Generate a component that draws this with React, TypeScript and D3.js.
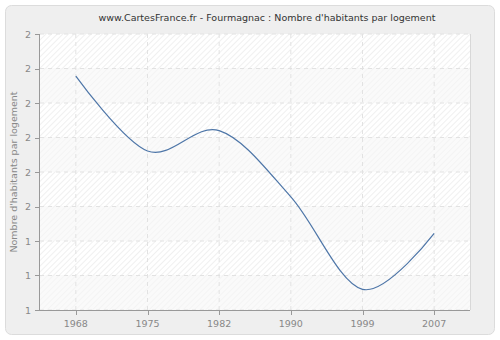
import React from "react";
import * as d3 from "d3";

const years = ["1968", "1975", "1982", "1990", "1999", "2007"];
const values = [1.878, 1.661, 1.72, 1.528, 1.26, 1.422];
const yTicks = [1.2, 1.3, 1.4, 1.5, 1.6, 1.7, 1.8, 1.9, 2.0];
const title = "www.CartesFrance.fr - Fourmagnac : Nombre d'habitants par logement";
const yLabel = "Nombre d'habitants par logement";

export default function App() {
  const W = 500, H = 340;
  const left = 40, right = 470, top = 34, bottom = 310;
  const x = d3.scalePoint<string>().domain(years).range([left, right]).padding(0.5);
  const y = d3.scaleLinear().domain([1.2, 2.0]).range([bottom, top]);
  const line = d3
    .line<number>()
    .x((_, i) => x(years[i]) as number)
    .y((d) => y(d))
    .curve(d3.curveCardinal.tension(0));
  const font = "DejaVu Sans, Verdana, sans-serif";
  const bands = yTicks.slice(0, -1).map((t, i) => ({ y0: y(yTicks[i + 1]), y1: y(t), i }));
  return (
    <svg width={W} height={H} style={{ position: "absolute", left: 0, top: 0 }}>
      <defs>
        <pattern id="hatch" width="4" height="4" patternUnits="userSpaceOnUse" patternTransform="rotate(45)">
          <rect width="4" height="4" fill="#ffffff" />
          <line x1="0" y1="0" x2="0" y2="4" stroke="#e6e6e6" strokeWidth="1.2" />
        </pattern>
        <pattern id="hatch2" width="4" height="4" patternUnits="userSpaceOnUse" patternTransform="rotate(45)">
          <rect width="4" height="4" fill="#fafafa" />
          <line x1="0" y1="0" x2="0" y2="4" stroke="#f1f1f1" strokeWidth="1.2" />
        </pattern>
      </defs>
      <rect x={5.5} y={5.5} width={489} height={329} rx={6} fill="#efefef" stroke="#dcdcdc" />
      <text x={267} y={21} textAnchor="middle" fontFamily={font} fontSize={9.5} fill="#333">
        {title}
      </text>
      {bands.map((b) => (
        <rect
          key={b.i}
          x={left}
          y={b.y0}
          width={right - left}
          height={b.y1 - b.y0}
          fill={(7 - b.i) % 2 === 0 ? "url(#hatch)" : "url(#hatch2)"}
        />
      ))}
      {yTicks.map((t) => (
        <line key={"gy" + t} x1={left} x2={right} y1={y(t)} y2={y(t)} stroke="#e2e2e2" strokeDasharray="4,4" />
      ))}
      {years.map((yr) => (
        <line key={"gx" + yr} x1={x(yr)} x2={x(yr)} y1={top} y2={bottom} stroke="#e2e2e2" strokeDasharray="4,4" />
      ))}
      <line x1={right + 0.5} x2={right + 0.5} y1={top} y2={bottom} stroke="#d8d8d8" />
      <path d={line(values) || ""} fill="none" stroke="#4e76a8" strokeWidth={1.2} />
      <line x1={left - 0.5} x2={left - 0.5} y1={top} y2={bottom} stroke="#999" />
      <line x1={left - 5} x2={right} y1={bottom + 0.5} y2={bottom + 0.5} stroke="#999" />
      {yTicks.map((t) => (
        <g key={"ty" + t}>
          <line x1={left - 5} x2={left} y1={Math.round(y(t)) + 0.5} y2={Math.round(y(t)) + 0.5} stroke="#999" />
          <text x={left - 9} y={y(t) + 3.5} textAnchor="end" fontFamily={font} fontSize={9.5} fill="#888">
            {d3.format(".0f")(t)}
          </text>
        </g>
      ))}
      {years.map((yr) => (
        <g key={"tx" + yr}>
          <line x1={Math.round(x(yr) as number) + 0.5} x2={Math.round(x(yr) as number) + 0.5} y1={bottom} y2={bottom + 5} stroke="#999" />
          <text x={x(yr)} y={327} textAnchor="middle" fontFamily={font} fontSize={9.5} fill="#888">
            {yr}
          </text>
        </g>
      ))}
      <text
        transform={`translate(17,${(top + bottom) / 2}) rotate(-90)`}
        textAnchor="middle"
        fontFamily={font}
        fontSize={9.5}
        fill="#888"
      >
        {yLabel}
      </text>
    </svg>
  );
}
